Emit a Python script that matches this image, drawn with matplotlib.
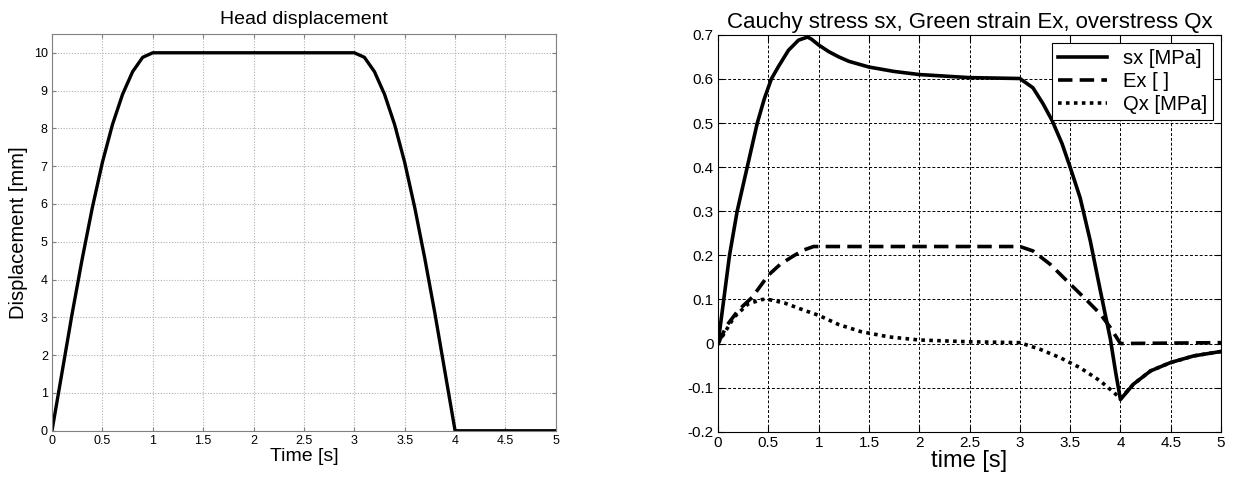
import matplotlib.pyplot as plt

# head displacement (left)
t_disp = [0, 0.1, 0.2, 0.3, 0.4, 0.5, 0.6, 0.7, 0.8, 0.9, 1.0,
          3.0, 3.1, 3.2, 3.3, 3.4, 3.5, 3.6, 3.7, 3.8, 3.9, 4.0, 5.0]
disp = [0, 1.55, 3.1, 4.55, 5.9, 7.1, 8.1, 8.9, 9.5, 9.88, 10.0,
        10.0, 9.88, 9.5, 8.9, 8.1, 7.1, 5.9, 4.55, 3.1, 1.55, 0, 0]

# stress / strain (right)
t_sx = [0, 0.057, 0.114, 0.19, 0.29, 0.39, 0.46, 0.53, 0.6, 0.7,
        0.8, 0.89, 0.93, 1.0, 1.1, 1.2, 1.3, 1.5, 1.75, 2.0, 2.5, 3.0,
        3.13, 3.23, 3.32, 3.42, 3.5, 3.6, 3.7, 3.8, 3.9, 3.95, 4.0,
        4.13, 4.3, 4.5, 4.73, 5.0]
sx = [0, 0.1, 0.2, 0.3, 0.4, 0.5, 0.555, 0.6, 0.628, 0.665,
      0.688, 0.695, 0.69, 0.677, 0.662, 0.65, 0.64, 0.627, 0.617, 0.61, 0.603, 0.601,
      0.58, 0.544, 0.506, 0.453, 0.40, 0.33, 0.233, 0.12, 0.01, -0.062, -0.127,
      -0.092, -0.062, -0.043, -0.028, -0.018]

t_ex = [0, 0.09, 0.2, 0.34, 0.5, 0.62, 0.745, 0.85, 0.95, 3.0, 3.13, 3.3, 3.5,
        3.67, 3.8, 3.9, 4.0, 5.0]
ex = [0, 0.042, 0.075, 0.105, 0.155, 0.18, 0.198, 0.212, 0.22, 0.22, 0.21, 0.18, 0.135,
      0.097, 0.067, 0.036, 0.0, 0.002]

t_qx = [0, 0.16, 0.3, 0.44, 0.5, 0.66, 0.86, 1.0, 1.2, 1.42, 1.7, 2.0, 2.5,
        3.0, 3.2, 3.4, 3.6, 3.8, 3.93, 4.0, 4.13, 4.3, 4.5, 4.73, 5.0]
qx = [0, 0.06, 0.09, 0.1, 0.1, 0.092, 0.075, 0.064, 0.043, 0.027, 0.015, 0.008, 0.004,
      0.002, -0.013, -0.032, -0.055, -0.085, -0.11, -0.125, -0.092, -0.062, -0.043, -0.028, -0.018]

x_ticks = [0, 0.5, 1, 1.5, 2, 2.5, 3, 3.5, 4, 4.5, 5]
x_ticklabels = ['0', '0.5', '1', '1.5', '2', '2.5', '3', '3.5', '4', '4.5', '5']

plt.rcParams['font.family'] = ['Liberation Sans', 'DejaVu Sans']

fig = plt.figure(figsize=(12.38, 4.84), dpi=100)

# 左图
ax1 = fig.add_axes([0.042, 0.110, 0.407, 0.820])
ax1.plot(t_disp, disp, color='black', linewidth=2.4)
ax1.set_xlim(0, 5)
ax1.set_ylim(0, 10.5)
ax1.set_xticks(x_ticks)
ax1.set_xticklabels(x_ticklabels)
ax1.set_yticks(range(0, 11))
ax1.grid(True, color='#b0b0b0', linestyle=(0, (1, 1.5)), linewidth=0.8)
ax1.set_title('Head displacement', fontsize=14, pad=7)
ax1.set_xlabel('Time [s]', fontsize=14, labelpad=1)
ax1.set_ylabel('Displacement [mm]', fontsize=14.5, labelpad=4)
ax1.tick_params(direction='in', top=True, right=True, labelsize=9, length=3,
                color='#808080', pad=3)
for s in ax1.spines.values():
    s.set_color('#808080')

# 右图
ax2 = fig.add_axes([0.580, 0.108, 0.4063, 0.820])
ax2.plot(t_sx, sx, color='black', linewidth=2.6, label='sx [MPa]')
ax2.plot(t_ex, ex, color='black', linewidth=2.6, linestyle=(0, (4, 2)), label='Ex [ ]')
ax2.plot(t_qx, qx, color='black', linewidth=2.6, linestyle=(0, (1, 1.2)), label='Qx [MPa]')
ax2.set_xlim(0, 5)
ax2.set_ylim(-0.2, 0.7)
ax2.set_xticks(x_ticks)
ax2.set_xticklabels(x_ticklabels)
ax2.set_yticks([-0.2, -0.1, 0, 0.1, 0.2, 0.3, 0.4, 0.5, 0.6, 0.7])
ax2.set_yticklabels(['-0.2', '-0.1', '0', '0.1', '0.2', '0.3', '0.4', '0.5', '0.6', '0.7'])
ax2.grid(True, color='black', linestyle=(0, (3, 2)), linewidth=0.7)
ax2.set_title('Cauchy stress sx, Green strain Ex, overstress Qx', fontsize=16, pad=5)
ax2.set_xlabel('time [s]', fontsize=17, labelpad=0)
ax2.tick_params(direction='in', top=True, right=True, labelsize=11, length=4, pad=3)
for s in ax2.spines.values():
    s.set_color('black')
leg = ax2.legend(loc='upper right', fontsize=14.5, frameon=True, fancybox=False,
                 edgecolor='black', framealpha=1, handlelength=2.4,
                 borderaxespad=0.4, labelspacing=0.2, borderpad=0.3)
leg.get_frame().set_linewidth(0.8)

plt.savefig('out.png', dpi=100)
